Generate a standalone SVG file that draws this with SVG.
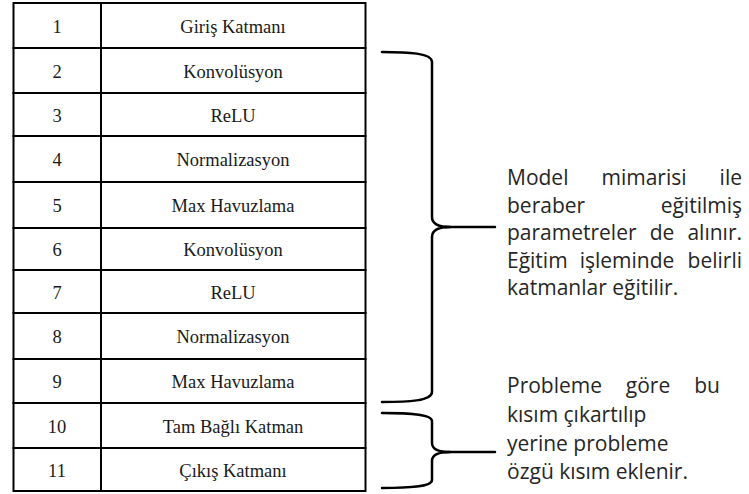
<svg xmlns="http://www.w3.org/2000/svg" width="749" height="494" viewBox="0 0 749 494">
  <style>
    .cell { fill: #ffffff; stroke: #000000; stroke-width: 2; }
    .tt { font-family: "Liberation Serif", "Times New Roman", serif; font-size: 18.5px; fill: #1a1a1a; text-anchor: middle; }
    .note { font-family: "Open Sans", "Noto Sans", sans-serif; font-size: 21px; fill: #262626; }
    .end { text-anchor: end; }
    .mid { text-anchor: middle; }
    .brace { fill: none; stroke: #000000; stroke-width: 2.5; stroke-linecap: round; stroke-linejoin: round; }
  </style>
  <rect width="749" height="494" fill="#ffffff"/>

  <!-- layer table -->
  <g id="layers">
    <g id="row-1"><rect class="cell" x="13.5" y="3" width="87.5" height="45"/><rect class="cell" x="101" y="3" width="264.5" height="45"/><text class="tt" x="57" y="32.5">1</text><text class="tt" x="233" y="32.5">Giriş Katmanı</text></g>
    <g id="row-2"><rect class="cell" x="13.5" y="48" width="87.5" height="45"/><rect class="cell" x="101" y="48" width="264.5" height="45"/><text class="tt" x="57" y="77.5">2</text><text class="tt" x="233" y="77.5">Konvolüsyon</text></g>
    <g id="row-3"><rect class="cell" x="13.5" y="93" width="87.5" height="43"/><rect class="cell" x="101" y="93" width="264.5" height="43"/><text class="tt" x="57" y="121.5">3</text><text class="tt" x="233" y="121.5">ReLU</text></g>
    <g id="row-4"><rect class="cell" x="13.5" y="136" width="87.5" height="46"/><rect class="cell" x="101" y="136" width="264.5" height="46"/><text class="tt" x="57" y="166">4</text><text class="tt" x="233" y="166">Normalizasyon</text></g>
    <g id="row-5"><rect class="cell" x="13.5" y="182" width="87.5" height="46"/><rect class="cell" x="101" y="182" width="264.5" height="46"/><text class="tt" x="57" y="212">5</text><text class="tt" x="233" y="212">Max Havuzlama</text></g>
    <g id="row-6"><rect class="cell" x="13.5" y="228" width="87.5" height="42"/><rect class="cell" x="101" y="228" width="264.5" height="42"/><text class="tt" x="57" y="256">6</text><text class="tt" x="233" y="256">Konvolüsyon</text></g>
    <g id="row-7"><rect class="cell" x="13.5" y="270" width="87.5" height="43"/><rect class="cell" x="101" y="270" width="264.5" height="43"/><text class="tt" x="57" y="298.5">7</text><text class="tt" x="233" y="298.5">ReLU</text></g>
    <g id="row-8"><rect class="cell" x="13.5" y="313" width="87.5" height="46"/><rect class="cell" x="101" y="313" width="264.5" height="46"/><text class="tt" x="57" y="343">8</text><text class="tt" x="233" y="343">Normalizasyon</text></g>
    <g id="row-9"><rect class="cell" x="13.5" y="359" width="87.5" height="44"/><rect class="cell" x="101" y="359" width="264.5" height="44"/><text class="tt" x="57" y="388">9</text><text class="tt" x="233" y="388">Max Havuzlama</text></g>
    <g id="row-10"><rect class="cell" x="13.5" y="403" width="87.5" height="45"/><rect class="cell" x="101" y="403" width="264.5" height="45"/><text class="tt" x="57" y="432.5">10</text><text class="tt" x="233" y="432.5">Tam Bağlı Katman</text></g>
    <g id="row-11"><rect class="cell" x="13.5" y="448" width="87.5" height="43"/><rect class="cell" x="101" y="448" width="264.5" height="43"/><text class="tt" x="57" y="476.5">11</text><text class="tt" x="233" y="476.5">Çıkış Katmanı</text></g>
  </g>

  <!-- curly braces grouping the rows -->
  <g id="connectors">
    <g id="brace-trained">
      <path class="brace" d="M382,52 C408,52 432,53 432,62 L432,217 C432,224 438,227 450,227 C438,227 432,230 432,237 L432,392 C432,401 408,402 382,402"/>
      <path class="brace" d="M445,227 H495"/>
    </g>
    <g id="brace-replaced">
      <path class="brace" d="M382,413 C408,413 432,414 432,421 L432,443 C432,449 438,452 450,452 C438,452 432,455 432,461 L432,480 C432,487 408,488 382,488"/>
      <path class="brace" d="M445,452 H495"/>
    </g>
  </g>

  <!-- explanatory notes -->
  <g id="note-trained" class="note">
    <text x="507" y="185">Model</text>
    <text class="mid" x="644" y="185">mimarisi</text>
    <text class="end" x="742" y="185">ile</text>
    <text x="507" y="212.5">beraber</text>
    <text class="end" x="742" y="212.5">eğitilmiş</text>
    <text x="507" y="240">parametreler</text>
    <text class="mid" x="662" y="240">de</text>
    <text class="end" x="742" y="240">alınır.</text>
    <text x="507" y="267.5">Eğitim</text>
    <text class="mid" x="627" y="267.5">işleminde</text>
    <text class="end" x="742" y="267.5">belirli</text>
    <text x="507" y="295">katmanlar eğitilir.</text>
  </g>
  <g id="note-replaced" class="note">
    <text x="507" y="393">Probleme</text>
    <text class="mid" x="648" y="393">göre</text>
    <text class="end" x="720" y="393">bu</text>
    <text x="507" y="422">kısım çıkartılıp</text>
    <text x="507" y="451">yerine probleme</text>
    <text x="507" y="479">özgü kısım eklenir.</text>
  </g>
</svg>
